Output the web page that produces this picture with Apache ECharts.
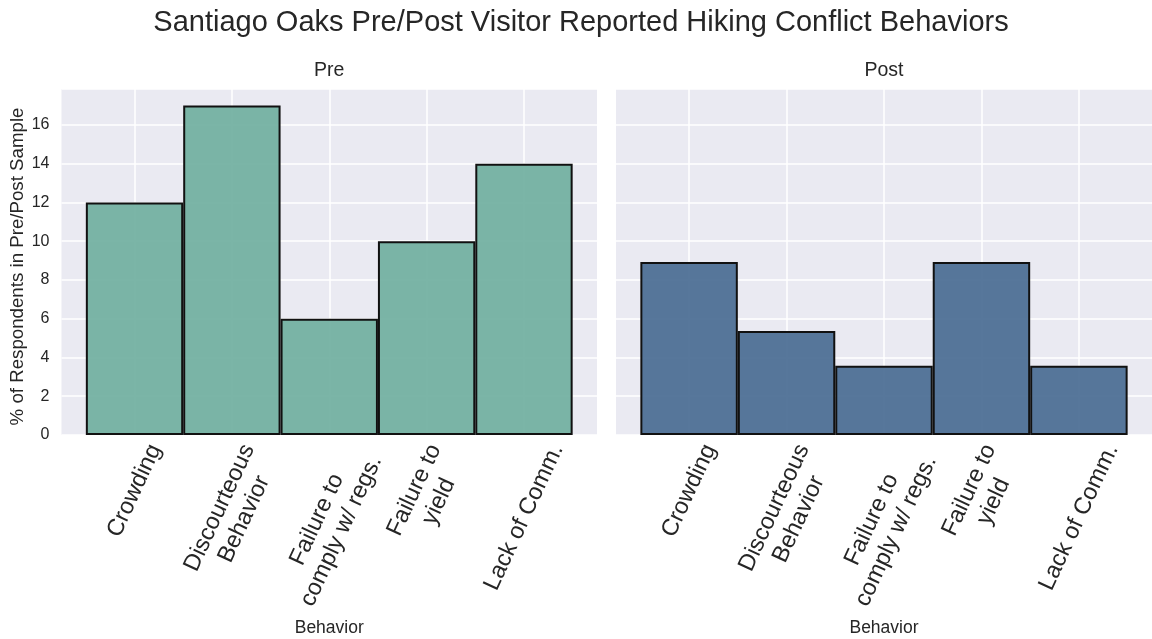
<!DOCTYPE html>
<html><head><meta charset="utf-8">
<script src="https://cdn.jsdelivr.net/npm/echarts@6/dist/echarts.min.js"></script>
<style>html,body{margin:0;padding:0;background:#fff}#c{width:1152px;height:639px}</style>
</head><body><div id="c"></div>
<script>
// ---- data ----
const categories = ['Crowding', 'Discourteous\nBehavior', 'Failure to\ncomply w/ regs.', 'Failure to\nyield', 'Lack of Comm.'];
const preValues = [12, 17, 6, 10, 14];
const postValues = [8.93, 5.36, 3.57, 8.93, 3.57];
const yTickValues = [0, 2, 4, 6, 8, 10, 12, 14, 16];
const panelTitles = ['Pre', 'Post'];
const mainTitle = 'Santiago Oaks Pre/Post Visitor Reported Hiking Conflict Behaviors';
const yAxisTitle = '% of Respondents in Pre/Post Sample';
const xAxisTitle = 'Behavior';

// ---- style / layout ----
const FONT = '"Liberation Sans", Arial, Helvetica, sans-serif';
const TEXT = '#262626';
const BG = '#eaeaf2';
const yMax = 17.85;
const panels = [{ left: 61.5, width: 535.5 }, { left: 616, width: 536 }];
const TOP = 89, HEIGHT = 346;
const ROT = 65, LBL_FS = 23.5, LBL_LH = 27, LBL_PAD = 5;
const barColors = ['rgba(112,175,159,0.92)', 'rgba(73,107,147,0.92)'];
const seriesData = [preValues, postValues];

// rotated tick labels: centre each label's rotated box under its tick, box top at a fixed gap
const ctx = document.createElement('canvas').getContext('2d');
ctx.font = LBL_FS + 'px ' + FONT;
const th = ROT * Math.PI / 180, S = Math.sin(th), C = Math.cos(th);
const lblInfo = categories.map(name => {
  const lines = name.split('\n');
  const L = Math.max.apply(null, lines.map(s => ctx.measureText(s).width));
  const H = lines.length * LBL_LH;
  return { name, H, d: (L * S + H * C) / 2 };
});
const delta = Math.min.apply(null, lblInfo.map(o => o.d - o.H / (2 * C)));
const labelMargin = LBL_PAD + delta;
const catItems = lblInfo.map(o => {
  const dd = o.d - delta;
  return { value: o.name, textStyle: { align: 'center', verticalAlign: 'top',
    padding: [Math.max(0, dd * C - o.H / 2), 2 * dd * S, 0, 0] } };
});

const grid = [], xAxis = [], yAxis = [], series = [], graphic = [];
panels.forEach((p, i) => {
  const bw = p.width / 5.5;
  grid.push({ left: p.left, top: TOP, width: p.width, height: HEIGHT, show: true, backgroundColor: BG, borderWidth: 0, containLabel: false, outerBoundsMode: 'none' });
  grid.push({ left: p.left + bw * 0.75, top: TOP, width: bw * 4, height: HEIGHT, show: false, containLabel: false, outerBoundsMode: 'none' });
  const ga = i * 2, gb = i * 2 + 1;
  xAxis.push({ type: 'value', gridIndex: ga, min: -0.75, max: 4.75, show: true,
    axisLine: { show: false }, axisTick: { show: false }, axisLabel: { show: false }, splitLine: { show: false } });
  xAxis.push({ type: 'category', gridIndex: gb, boundaryGap: false, data: catItems,
    axisLine: { show: false }, axisTick: { show: false },
    splitLine: { show: true, interval: 0, lineStyle: { color: '#ffffff', width: 1.5 } },
    axisLabel: { show: true, interval: 0, rotate: ROT, margin: labelMargin,
      fontSize: LBL_FS, lineHeight: LBL_LH, fontFamily: FONT, color: TEXT, hideOverlap: false },
    name: xAxisTitle, nameLocation: 'middle', nameGap: 184, nameMoveOverlap: false,
    nameTextStyle: { fontSize: 17.5, fontFamily: FONT, color: TEXT } });
  yAxis.push({ type: 'value', gridIndex: ga, min: 0, max: yMax, interval: 2,
    axisLine: { show: false }, axisTick: { show: false },
    splitLine: { show: true, lineStyle: { color: '#ffffff', width: 1.5 } },
    axisLabel: { show: i === 0, showMaxLabel: false, margin: 12, fontSize: 16, fontFamily: FONT, color: TEXT,
      formatter: v => (yTickValues.indexOf(v) >= 0 ? String(v) : '') },
    name: i === 0 ? yAxisTitle : '', nameLocation: 'middle', nameGap: 32, nameRotate: 90,
    nameTextStyle: { fontSize: 18.7, fontFamily: FONT, color: TEXT, padding: [0, 9, 0, 0] } });
  yAxis.push({ type: 'value', gridIndex: gb, min: 0, max: yMax, show: false, splitLine: { show: false } });
  series.push({ type: 'bar', xAxisIndex: gb, yAxisIndex: gb, data: seriesData[i], barWidth: '100%', clip: false,
    itemStyle: { color: barColors[i], borderColor: '#111111', borderWidth: 2 } });
  graphic.push({ type: 'text', x: p.left + p.width / 2, y: 71,
    style: { text: panelTitles[i], font: '19.5px ' + FONT, fill: TEXT, textAlign: 'center', textVerticalAlign: 'middle' } });
});
graphic.push({ type: 'text', x: 581, y: 22.5,
  style: { text: mainTitle, font: '29px ' + FONT, fill: TEXT, textAlign: 'center', textVerticalAlign: 'middle' } });

const chart = echarts.init(document.getElementById('c'), null, { renderer: 'canvas' });
chart.setOption({ animation: false, backgroundColor: '#ffffff', grid, xAxis, yAxis, series, graphic });
</script></body></html>
